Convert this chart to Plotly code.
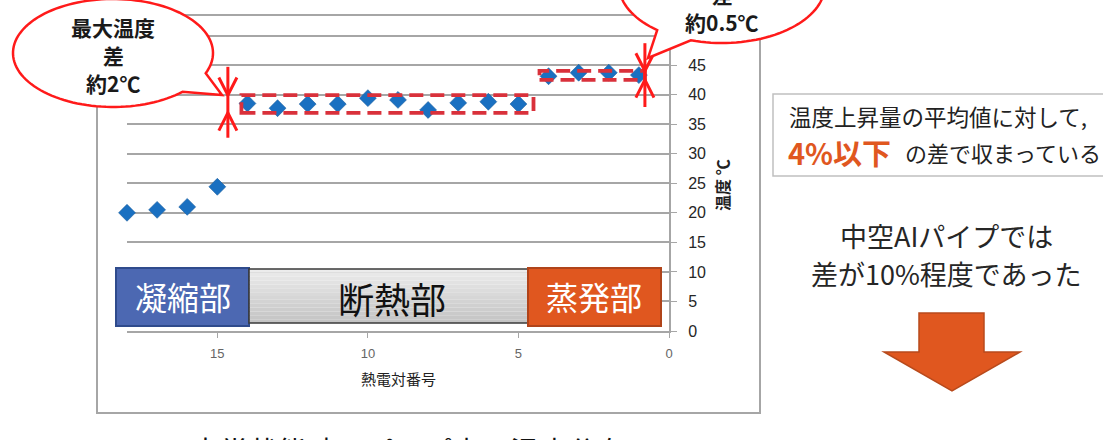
import plotly.graph_objects as go
import numpy as np

# ---------------- data ----------------
thermocouple = [18, 17, 16, 15, 14, 13, 12, 11, 10, 9, 8, 7, 6, 5, 4, 3, 2, 1]
temperature = [20.0, 20.5, 21.0, 24.4, 38.5, 37.7, 38.4, 38.4, 39.4, 39.1,
               37.4, 38.6, 38.8, 38.4, 43.1, 43.7, 43.7, 43.3]

band_x_start = [14.2, 4.3]
band_x_end = [4.5, 0.8]
band_low = [36.9, 42.5]
band_high = [39.9, 44.0]

arrow_x = [14.65, 0.8]
arrow_top = [44.7, 48.7]
arrow_bottom = [32.7, 37.9]

x_tick_values = [15, 10, 5, 0]
y_tick_values = [0, 5, 10, 15, 20, 25, 30, 35, 40, 45, 50]
y_tick_labels = ["0", "5", "10", "15", "20", "25", "30", "35", "40", "45", ""]

section_labels = ["凝縮部", "断熱部", "蒸発部"]
callout_left_lines = ["最大温度", "差", "約2℃"]
callout_right_lines = ["最大温度", "差", "約0.5℃"]

# ---------------- layout geometry (pixels) ----------------
W, H = 1103, 440
PL, PR, PT, PB = 127, 669, 16, 331
PW, PH = PR - PL, PB - PT


def X(px):
    return (px - PL) / PW


def Y(py):
    return (PB - py) / PH


def path_from(points, close=True):
    s = "M " + " L ".join(f"{X(a):.5f},{Y(b):.5f}" for a, b in points)
    return s + (" Z" if close else "")


def callout_path(cx, cy, rx, ry, a0, a1, tip):
    pts = []
    for a in np.linspace(a0, a1, 120):
        t = np.radians(a)
        pts.append((cx + rx * np.cos(t), cy + ry * np.sin(t)))
    pts.append(tip)
    return path_from(pts)


CJK = "Noto Sans CJK JP"
RED = "#ff1a1a"
ORANGE = "#e0571f"

fig = go.Figure()
fig.add_trace(go.Scatter(
    x=thermocouple, y=temperature, mode="markers", cliponaxis=False,
    marker=dict(symbol="diamond", size=13, color="#1a70c1",
                line=dict(width=0.6, color="#1b5e9e")),
    hoverinfo="x+y", showlegend=False))

shapes = []
# outer frame
shapes.append(dict(type="rect", xref="paper", yref="paper",
                   x0=X(97), x1=X(760), y0=Y(413), y1=Y(-5),
                   line=dict(color="#a6a6a6", width=2), layer="below"))

# dashed bands
for x0, x1, lo, hi in zip(band_x_start, band_x_end, band_low, band_high):
    shapes.append(dict(type="rect", xref="x", yref="y", x0=x0, x1=x1, y0=lo, y1=hi,
                       line=dict(color="#d9313b", width=3.8, dash="14px,7px"),
                       layer="above"))

# double arrows
for ax_, top, bot, lo, hi in zip(arrow_x, arrow_top, arrow_bottom, band_low, band_high):
    hw, hh = 0.3, 3.0
    shapes.append(dict(type="line", xref="x", yref="y", x0=ax_, x1=ax_, y0=bot, y1=top,
                       line=dict(color=RED, width=3), layer="above"))
    shapes.append(dict(type="path", xref="x", yref="y",
                       path=f"M {ax_-hw},{hi+hh} L {ax_},{hi} L {ax_+hw},{hi+hh}",
                       line=dict(color=RED, width=3), layer="above"))
    shapes.append(dict(type="path", xref="x", yref="y",
                       path=f"M {ax_-hw},{lo-hh} L {ax_},{lo} L {ax_+hw},{lo-hh}",
                       line=dict(color=RED, width=3), layer="above"))

# section boxes
shapes.append(dict(type="rect", xref="paper", yref="paper",
                   x0=X(116), x1=X(249), y0=Y(326), y1=Y(268),
                   fillcolor="#4c68b2", line=dict(color="#2f4b8c", width=2), layer="above"))
# gradient grey box (strips)
gx0, gx1, gy0, gy1 = 249, 528, 269, 323
n = 14
for i in range(n):
    t = i / (n - 1)
    c = int(236 - t * (236 - 196))
    ya = gy0 + (gy1 - gy0) * i / n
    yb = gy0 + (gy1 - gy0) * (i + 1) / n
    shapes.append(dict(type="rect", xref="paper", yref="paper",
                       x0=X(gx0), x1=X(gx1), y0=Y(yb), y1=Y(ya),
                       fillcolor=f"rgb({c},{c},{c})", line=dict(width=0), layer="above"))
shapes.append(dict(type="rect", xref="paper", yref="paper",
                   x0=X(gx0), x1=X(gx1), y0=Y(gy1), y1=Y(gy0),
                   line=dict(color="#3a3a3a", width=1.6), layer="above"))
shapes.append(dict(type="rect", xref="paper", yref="paper",
                   x0=X(528), x1=X(661), y0=Y(326), y1=Y(268),
                   fillcolor=ORANGE, line=dict(color="#b0441a", width=2), layer="above"))

# callouts
shapes.append(dict(type="path", xref="paper", yref="paper",
                   path=callout_path(113, 53, 100, 54, 46, 382, (222, 95)),
                   fillcolor="white", line=dict(color=RED, width=2.5), layer="above"))
shapes.append(dict(type="path", xref="paper", yref="paper",
                   path=callout_path(722, -15, 103, 58, 129, 467.6, (648, 58)),
                   fillcolor="white", line=dict(color=RED, width=2.5), layer="above"))

# right-hand text box
shapes.append(dict(type="rect", xref="paper", yref="paper",
                   x0=X(773), x1=X(1112), y0=Y(176), y1=Y(94),
                   fillcolor="white", line=dict(color="#c0c0c0", width=1.5), layer="above"))

# big orange arrow
shapes.append(dict(type="path", xref="paper", yref="paper",
                   path=path_from([(919, 313), (984, 313), (984, 352), (1020, 352),
                                   (952, 391), (884, 352), (919, 352)]),
                   fillcolor=ORANGE, line=dict(color="#b84a1c", width=1.5), layer="above"))

ann = []


def text(px, py, s, size, color="#1a1a1a", xanchor="center", yanchor="middle",
         angle=0, family=CJK):
    ann.append(dict(x=X(px), y=Y(py), xref="paper", yref="paper", text=s,
                    showarrow=False, xanchor=xanchor, yanchor=yanchor, textangle=angle,
                    borderpad=0,
                    font=dict(family=family, size=size, color=color)))


text(183, 296, section_labels[0], 32, "white")
text(392, 298, section_labels[1], 36, "#111111")
text(594, 296, section_labels[2], 32, "white")

for s, py in zip(callout_left_lines, [27, 55, 83]):
    text(113, py, "<b>" + s + "</b>", 21)
for s, py in zip(callout_right_lines, [-34, -6, 22]):
    text(722, py, "<b>" + s + "</b>", 21)

text(398, 379, "熱電対番号", 15, "#222222")
text(722, 185, "<b>温度 ℃</b>", 16, "#222222", angle=-90)

text(788, 116, "温度上昇量の平均値に対して,", 22.5, "#222222", xanchor="left")
text(787, 152, "<b>4%以下</b>", 29, ORANGE, xanchor="left")
text(904, 152, "の差で収まっている", 22, "#222222", xanchor="left")

text(946, 235, "中空AIパイプでは", 27, "#262626")
text(946, 273, "差が10%程度であった", 27, "#262626")

text(408, 450, "定常状態時のパイプ内の温度分布", 29, "#111111")

fig.update_layout(
    width=W, height=H,
    margin=dict(l=PL, r=W - PR, t=PT, b=H - PB, pad=0),
    paper_bgcolor="white", plot_bgcolor="rgba(0,0,0,0)",
    showlegend=False,
    shapes=shapes, annotations=ann,
    xaxis=dict(range=[18, 0], tickvals=x_tick_values, ticks="outside", ticklen=5,
               tickcolor="#a6a6a6", showline=True, linecolor="#a6a6a6", linewidth=2,
               mirror=True, showgrid=False, zeroline=False,
               tickfont=dict(family="Liberation Sans", size=13, color="#666666"),
               ticklabelstandoff=4),
    yaxis=dict(range=[0, 53.3], side="right", tickvals=y_tick_values,
               ticktext=y_tick_labels, ticks="outside", ticklen=6, tickcolor="#a6a6a6",
               showline=True, linecolor="#a6a6a6", linewidth=2,
               showgrid=True, gridcolor="#a6a6a6", gridwidth=1.5, zeroline=False,
               tickfont=dict(family="Liberation Sans", size=16, color="#262626"),
               ticklabelstandoff=8),
)

fig.write_html("out.html")
